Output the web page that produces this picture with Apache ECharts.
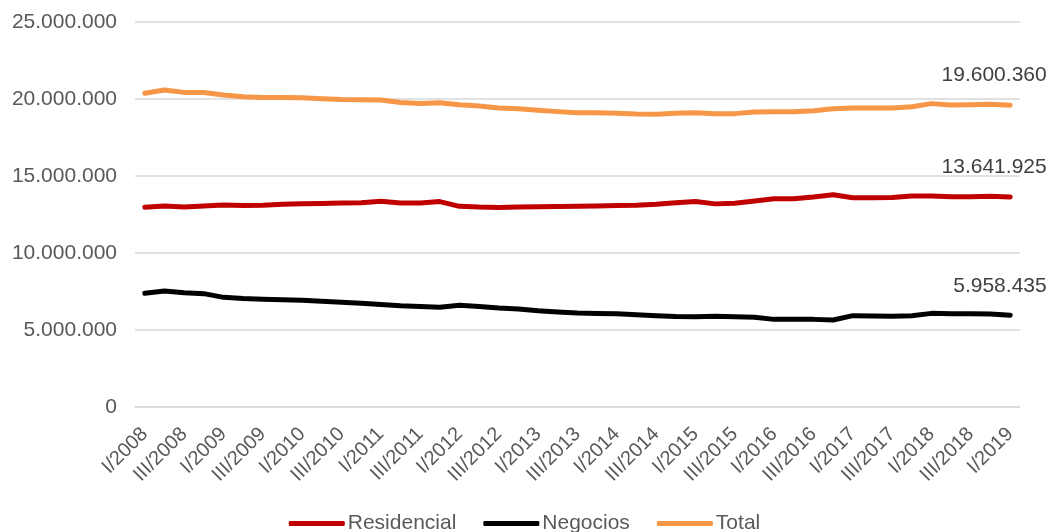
<!DOCTYPE html>
<html>
<head>
<meta charset="utf-8">
<script src="https://cdn.jsdelivr.net/npm/echarts@6/dist/echarts.min.js"></script>
<style>
html,body{margin:0;padding:0;background:#fff;}
#chart{width:1049px;height:532px;}
</style>
</head>
<body>
<div id="chart"></div>
<script>
const categories = [
  'I/2008','II/2008','III/2008','IV/2008',
  'I/2009','II/2009','III/2009','IV/2009',
  'I/2010','II/2010','III/2010','IV/2010',
  'I/2011','II/2011','III/2011','IV/2011',
  'I/2012','II/2012','III/2012','IV/2012',
  'I/2013','II/2013','III/2013','IV/2013',
  'I/2014','II/2014','III/2014','IV/2014',
  'I/2015','II/2015','III/2015','IV/2015',
  'I/2016','II/2016','III/2016','IV/2016',
  'I/2017','II/2017','III/2017','IV/2017',
  'I/2018','II/2018','III/2018','IV/2018',
  'I/2019'
];
const residencial = [
  12970000,13050000,12990000,13050000,
  13120000,13090000,13100000,13160000,
  13200000,13220000,13240000,13270000,
  13360000,13240000,13250000,13340000,
  13030000,12980000,12960000,12980000,
  13000000,13020000,13040000,13050000,
  13080000,13100000,13170000,13270000,
  13340000,13190000,13230000,13380000,
  13520000,13530000,13630000,13780000,
  13590000,13580000,13610000,13700000,
  13700000,13660000,13660000,13690000,
  13641925
];
const negocios = [
  7380000,7530000,7420000,7360000,
  7120000,7040000,7000000,6970000,
  6930000,6860000,6800000,6730000,
  6650000,6570000,6520000,6470000,
  6600000,6530000,6430000,6360000,
  6250000,6170000,6100000,6070000,
  6050000,5990000,5930000,5880000,
  5860000,5900000,5860000,5830000,
  5690000,5690000,5690000,5650000,
  5930000,5910000,5900000,5920000,
  6080000,6050000,6050000,6040000,
  5958435
];
const total = [
  20370000,20580000,20430000,20420000,
  20260000,20140000,20090000,20090000,
  20080000,20020000,19960000,19950000,
  19930000,19770000,19710000,19760000,
  19630000,19550000,19420000,19370000,
  19270000,19180000,19110000,19110000,
  19070000,19020000,19010000,19070000,
  19110000,19050000,19050000,19160000,
  19180000,19180000,19240000,19370000,
  19420000,19420000,19420000,19500000,
  19700000,19610000,19630000,19660000,
  19600360
];
const yTicks = [0, 5000000, 10000000, 15000000, 20000000, 25000000];

function fmt(v) {
  return String(Math.round(v)).replace(/\B(?=(\d{3})+(?!\d))/g, '.');
}
const FONT = 'Liberation Sans, Arial, sans-serif';
const TXT = '#595959';
const LABEL_TXT = '#404040';

function lineSeries(name, arr, color) {
  return {
    name: name, type: 'line', data: arr,
    symbol: 'none', smooth: false, color: color, z: 2,
    lineStyle: { width: 5, color: color, cap: 'round', join: 'round' }
  };
}
function labelSeries(arr) {
  const last = arr.length - 1;
  return {
    type: 'scatter',
    data: [[categories[last], arr[last]]],
    symbol: 'circle',
    symbolSize: 1,
    itemStyle: { color: '#ffffff', opacity: 1 },
    silent: true,
    z: 1,
    label: {
      show: true,
      position: [37, -29],
      align: 'right',
      verticalAlign: 'middle',
      formatter: function (p) { return fmt(p.value[1]); },
      color: LABEL_TXT,
      opacity: 1,
      textBorderWidth: 0,
      fontSize: 21,
      fontFamily: FONT
    }
  };
}

const chart = echarts.init(document.getElementById('chart'), null, { renderer: 'canvas' });
chart.setOption({
  animation: false,
  backgroundColor: '#ffffff',
  grid: { left: 135, right: 29, top: 22, bottom: 125, containLabel: false },
  legend: {
    bottom: -7,
    left: 'center',
    icon: 'roundRect',
    itemWidth: 56,
    itemHeight: 5,
    itemGap: 27,
    textStyle: { color: TXT, fontSize: 21, fontFamily: FONT, padding: [0, 0, 0, -2] },
    data: ['Residencial', 'Negocios', 'Total']
  },
  xAxis: {
    type: 'category',
    data: categories,
    boundaryGap: true,
    axisLine: { show: true, lineStyle: { color: '#d9d9d9', width: 1.5 } },
    axisTick: { show: false },
    axisLabel: {
      interval: 1,
      rotate: 45,
      margin: 24,
      color: TXT,
      fontSize: 20,
      fontFamily: FONT
    },
    splitLine: { show: false }
  },
  yAxis: {
    type: 'value',
    min: 0,
    max: 25000000,
    interval: 5000000,
    axisLine: { show: false },
    axisTick: { show: false },
    axisLabel: {
      margin: 18,
      color: TXT,
      fontSize: 21,
      fontFamily: FONT,
      formatter: function (v) { return yTicks.indexOf(v) >= 0 ? fmt(v) : ''; }
    },
    splitLine: { show: true, lineStyle: { color: '#d9d9d9', width: 1.5 } }
  },
  series: [
    lineSeries('Residencial', residencial, '#C00000'),
    lineSeries('Negocios', negocios, '#000000'),
    lineSeries('Total', total, '#F79646'),
    labelSeries(residencial),
    labelSeries(negocios),
    labelSeries(total)
  ]
});
</script>
</body>
</html>
